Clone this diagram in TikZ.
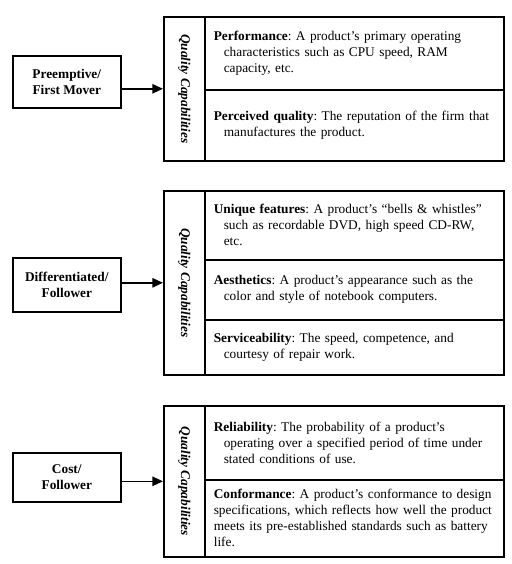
\documentclass[tikz,border=0pt]{standalone}
\usepackage{fontspec}
\setmainfont{Liberation Serif}
\usetikzlibrary{arrows.meta, positioning}
\newcommand{\capind}{\hspace*{7.5pt}}
\frenchspacing

\begin{document}
\begin{tikzpicture}[x=0.75pt, y=-0.75pt,
      strat/.style={draw, line width=1.2pt, minimum width=81pt, align=center,
                    font=\bfseries, anchor=north west},
      qcol/.style={draw, line width=1.2pt, minimum width=30.75pt, inner sep=0pt, anchor=north west},
      qlbl/.style={rotate=-90, font=\bfseries\itshape},
      capbox/.style={draw, line width=1.2pt, minimum width=224.25pt, text width=211pt,
                  inner xsep=6.75pt, align=left, anchor=north west},
      arr/.style={-{Triangle[length=8pt, width=7pt]}, line width=1.2pt}
    ]
    \useasboundingbox (0,0) rectangle (511,564);

    % Preemptive / First Mover
    \node[strat, minimum height=39pt] (pfm) at (12,55) {Preemptive/\\First Mover};
    \node[qcol, minimum height=108pt] (qc1) at (163,16) {};
    \node[qlbl] (ql1) at (qc1.center) {Quality Capabilities};
    \node[capbox, minimum height=54.75pt] (perf) at (204,16)
      {\textbf{Performance}: A product’s primary operating\\
       \capind characteristics such as CPU speed, RAM\\
       \capind capacity, etc.};
    \node[capbox, minimum height=53.25pt] (perc) at (204,89)
      {\textbf{Perceived quality}: The reputation of the firm that\\
       \capind manufactures the product.};
    \draw[arr] (pfm.east |- qc1.west) -- (qc1.west);

    % Differentiated / Follower
    \node[strat, minimum height=40.5pt] (dif) at (12,257) {Differentiated/\\Follower};
    \node[qcol, minimum height=138pt] (qc2) at (163,190) {};
    \node[qlbl] (ql2) at (qc2.center) {Quality Capabilities};
    \node[capbox, minimum height=51.75pt] (uniq) at (204,190)
      {\textbf{Unique features}: A product’s ``bells \& whistles''\\
       \capind such as recordable DVD, high speed CD-RW,\\
       \capind etc.};
    \node[capbox, minimum height=45pt] (aest) at (204,259)
      {\textbf{Aesthetics}: A product’s appearance such as the\\
       \capind color and style of notebook computers.};
    \node[capbox, minimum height=41.25pt] (serv) at (204,319)
      {\textbf{Serviceability}: The speed, competence, and\\
       \capind courtesy of repair work.};
    \draw[arr] (dif.east |- qc2.west) -- (qc2.west);

    % Cost / Follower
    \node[strat, minimum height=36.75pt] (cost) at (12,452) {Cost/\\Follower};
    \node[qcol, minimum height=113.25pt] (qc3) at (163,405) {};
    \node[qlbl] (ql3) at (qc3.center) {Quality Capabilities};
    \node[capbox, minimum height=55.5pt] (rel) at (204,405)
      {\textbf{Reliability}: The probability of a product’s\\
       \capind operating over a specified period of time under\\
       \capind stated conditions of use.};
    \node[capbox, minimum height=57.75pt] (conf) at (204,479)
      {\textbf{Conformance}: A product’s conformance to design\\
       specifications, which reflects how well the product\\
       meets its pre-established standards such as battery\\
       life.};
    \draw[arr] (cost.east |- qc3.west) -- (qc3.west);
  \end{tikzpicture}
\end{document}
